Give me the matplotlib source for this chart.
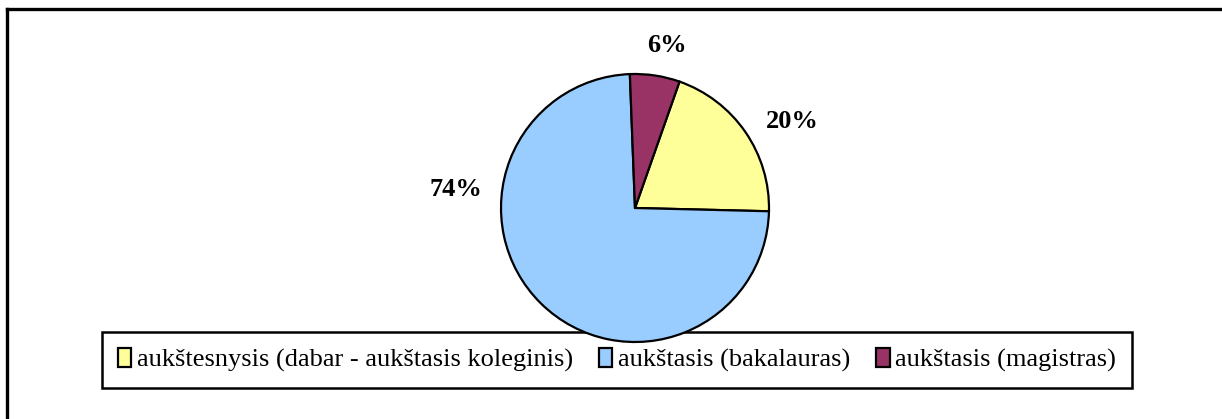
import matplotlib.pyplot as plt
from matplotlib.lines import Line2D

plt.rcParams['font.family'] = ['Liberation Serif', 'DejaVu Serif']

labels = ['aukštesnysis (dabar - aukštasis koleginis)',
          'aukštasis (bakalauras)',
          'aukštasis (magistras)']
values = [20, 74, 6]
colors = ['#FFFF99', '#99CCFF', '#993366']

W, H = 1222, 419
fig = plt.figure(figsize=(W / 100, H / 100), dpi=100)

# outer chart frame (only left and top edges are inside the crop)
fig.add_artist(Line2D([7.5 / W, 7.5 / W], [0, 1 - 9 / H], color='black', lw=2.4))
fig.add_artist(Line2D([6.5 / W, 1], [1 - 9 / H, 1 - 9 / H], color='black', lw=2.4))

# pie axes: centre (635, 208) px, radius 134 px
cx, cy, r = 635, 208, 134
ax = fig.add_axes([(cx - r) / W, (H - cy - r) / H, 2 * r / W, 2 * r / H])
wedges, _, pcts = ax.pie(values, colors=colors, startangle=70.6, counterclock=False,
                         autopct='%1.0f%%', radius=1,
                         wedgeprops=dict(edgecolor='black', linewidth=1.6),
                         textprops=dict(fontsize=19, fontweight='bold'))
ax.set_xlim(-1, 1)
ax.set_ylim(-1, 1)
ax.set_zorder(2)

# label positions as in the reference (pixel coords)
label_pos = [(792, 122), (456, 190), (667, 46)]
for t, (px, py) in zip(pcts, label_pos):
    t.set_position(((px - cx) / r, (cy - py) / r))
    t.set_ha('center')
    t.set_va('center')

leg = fig.legend(wedges, labels, loc='center',
                 bbox_to_anchor=((107 + 1127) / 2 / W, 1 - 360 / H),
                 ncol=3, frameon=True, fancybox=False, fontsize=19, framealpha=1,
                 handlelength=0.5, handleheight=0.7, handletextpad=0.2,
                 columnspacing=1.0, borderpad=0.6, borderaxespad=0)
leg.get_frame().set_edgecolor('black')
leg.get_frame().set_linewidth(1.8)
leg.set_zorder(1)

fig.savefig('out.png', dpi=100)
